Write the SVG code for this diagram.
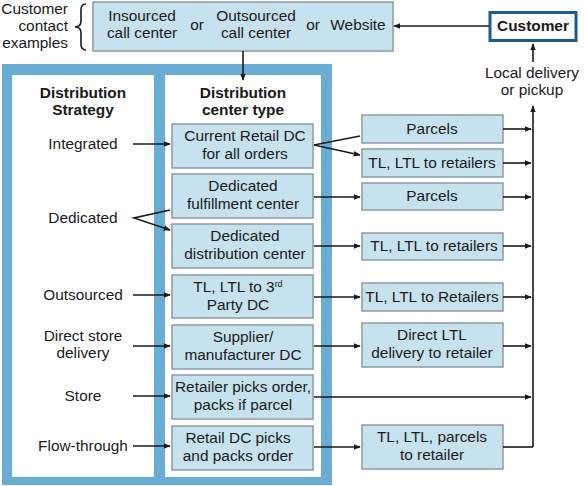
<svg xmlns="http://www.w3.org/2000/svg" width="584" height="486" viewBox="0 0 584 486">
<defs>
<style>
text{font-family:"Liberation Sans",Arial,sans-serif;font-size:15.4px;fill:#1a1a1a}
.c{text-anchor:middle}
.r{text-anchor:end}
.b{font-weight:bold}
.box{fill:#c6e2ef;stroke:#8c9aa3;stroke-width:1.5}
.ln{fill:none;stroke:#1a1a1a;stroke-width:1.6}
</style>
<marker id="ah" viewBox="0 0 10 10" refX="9" refY="5" markerWidth="7" markerHeight="7" markerUnits="userSpaceOnUse" orient="auto">
<path d="M0,1 L10,5 L0,9 Z" fill="#1a1a1a"/>
</marker>
</defs>
<rect width="584" height="486" fill="#fff"/>

<g id="frame">
<rect x="2" y="64" width="330" height="421" fill="#69add4"/>
<rect x="12" y="75" width="142" height="402" fill="#fff"/>
<rect x="165" y="75" width="156" height="402" fill="#fff"/>
</g>

<g id="contact-label">
<text class="r" x="68" y="14">Customer</text>
<text class="r" x="68" y="31">contact</text>
<text class="r" x="68" y="48">examples</text>
<path class="ln" d="M86,4 Q81,4 81,10 L81,21 Q81,27 75,27 Q81,27 81,33 L81,44 Q81,50 86,50"/>
</g>

<g id="contact-box">
<rect class="box" x="93" y="2" width="300" height="49"/>
<text class="c" x="142" y="21">Insourced</text>
<text class="c" x="142" y="38">call center</text>
<text class="c" x="197" y="30">or</text>
<text class="c" x="256" y="21">Outsourced</text>
<text class="c" x="256" y="38">call center</text>
<text class="c" x="313" y="30">or</text>
<text class="c" x="358" y="30">Website</text>
</g>

<g id="customer">
<rect x="490" y="12.5" width="86" height="28" fill="#fff" stroke="#1f5b8f" stroke-width="3"/>
<text class="c b" x="533" y="31">Customer</text>
</g>

<g id="local-delivery">
<text class="c" x="532" y="78">Local delivery</text>
<text class="c" x="532" y="95">or pickup</text>
</g>

<g id="headers">
<text class="c b" x="83" y="98">Distribution</text>
<text class="c b" x="83" y="115">Strategy</text>
<text class="c b" x="243" y="98">Distribution</text>
<text class="c b" x="243" y="115">center type</text>
</g>

<g id="strategies">
<text class="c" x="83" y="149">Integrated</text>
<text class="c" x="83" y="223">Dedicated</text>
<text class="c" x="83" y="300">Outsourced</text>
<text class="c" x="83" y="341">Direct store</text>
<text class="c" x="83" y="358">delivery</text>
<text class="c" x="83" y="401">Store</text>
<text class="c" x="83" y="451">Flow-through</text>
</g>

<g id="dc-current">
<rect class="box" x="172" y="124" width="141" height="44"/>
<text class="c" x="245" y="141">Current Retail DC</text>
<text class="c" x="245" y="159">for all orders</text>
</g>
<g id="dc-fulfillment">
<rect class="box" x="172" y="174" width="141" height="44"/>
<text class="c" x="243" y="191">Dedicated</text>
<text class="c" x="243" y="209">fulfillment center</text>
</g>
<g id="dc-distribution">
<rect class="box" x="172" y="224" width="141" height="44"/>
<text class="c" x="245" y="241">Dedicated</text>
<text class="c" x="245" y="259">distribution center</text>
</g>
<g id="dc-3pl">
<rect class="box" x="172" y="275" width="141" height="43"/>
<text class="c" x="238" y="292">TL, LTL to 3<tspan font-size="9" dy="-5">rd</tspan></text>
<text class="c" x="238" y="310">Party DC</text>
</g>
<g id="dc-supplier">
<rect class="box" x="172" y="325" width="141" height="44"/>
<text class="c" x="243" y="342">Supplier/</text>
<text class="c" x="243" y="360">manufacturer DC</text>
</g>
<g id="dc-store">
<rect class="box" x="172" y="375" width="141" height="44"/>
<text class="c" x="243" y="392">Retailer picks order,</text>
<text class="c" x="243" y="410">packs if parcel</text>
</g>
<g id="dc-flow">
<rect class="box" x="172" y="426" width="141" height="44"/>
<text class="c" x="238" y="443">Retail DC picks</text>
<text class="c" x="238" y="461">and packs order</text>
</g>

<g id="out-parcels1">
<rect class="box" x="362" y="115" width="141" height="28"/>
<text class="c" x="432" y="134">Parcels</text>
</g>
<g id="out-tl1">
<rect class="box" x="362" y="149" width="141" height="28"/>
<text class="c" x="432" y="168">TL, LTL to retailers</text>
</g>
<g id="out-parcels2">
<rect class="box" x="362" y="183" width="141" height="27"/>
<text class="c" x="432" y="201">Parcels</text>
</g>
<g id="out-tl2">
<rect class="box" x="362" y="233" width="141" height="27"/>
<text class="c" x="434" y="251">TL, LTL to retailers</text>
</g>
<g id="out-tl3">
<rect class="box" x="362" y="283" width="141" height="28"/>
<text class="c" x="432" y="302">TL, LTL to Retailers</text>
</g>
<g id="out-direct">
<rect class="box" x="362" y="323" width="141" height="44"/>
<text class="c" x="432" y="340">Direct LTL</text>
<text class="c" x="432" y="358">delivery to retailer</text>
</g>
<g id="out-flow">
<rect class="box" x="362" y="425" width="141" height="44"/>
<text class="c" x="432" y="442">TL, LTL, parcels</text>
<text class="c" x="432" y="460">to retailer</text>
</g>

<g id="connectors">
<path class="ln" d="M489,26 H394" marker-end="url(#ah)"/>
<path class="ln" d="M243,51 V80" marker-end="url(#ah)"/>
<path class="ln" d="M533,62 V44" marker-end="url(#ah)"/>
<path class="ln" d="M533,447 V106" marker-end="url(#ah)"/>

<path class="ln" d="M133,144 H170" marker-end="url(#ah)"/>
<path class="ln" d="M170,210 L134,218 L170,230" marker-end="url(#ah)"/>
<path class="ln" d="M133,295 H170" marker-end="url(#ah)"/>
<path class="ln" d="M133,346 H170" marker-end="url(#ah)"/>
<path class="ln" d="M133,396 H170" marker-end="url(#ah)"/>
<path class="ln" d="M133,446 H170" marker-end="url(#ah)"/>

<path class="ln" d="M360,136 L314,145 L360,155" marker-end="url(#ah)"/>
<path class="ln" d="M314,197 H360" marker-end="url(#ah)"/>
<path class="ln" d="M314,246 H360" marker-end="url(#ah)"/>
<path class="ln" d="M314,297 H360" marker-end="url(#ah)"/>
<path class="ln" d="M314,346 H360" marker-end="url(#ah)"/>
<path class="ln" d="M314,397 H531" marker-end="url(#ah)"/>
<path class="ln" d="M314,447 H360" marker-end="url(#ah)"/>

<path class="ln" d="M503,129 H531" marker-end="url(#ah)"/>
<path class="ln" d="M503,163 H531" marker-end="url(#ah)"/>
<path class="ln" d="M503,197 H531" marker-end="url(#ah)"/>
<path class="ln" d="M503,246 H531" marker-end="url(#ah)"/>
<path class="ln" d="M503,297 H531" marker-end="url(#ah)"/>
<path class="ln" d="M503,346 H531" marker-end="url(#ah)"/>
<path class="ln" d="M503,447 H533"/>
</g>
</svg>
